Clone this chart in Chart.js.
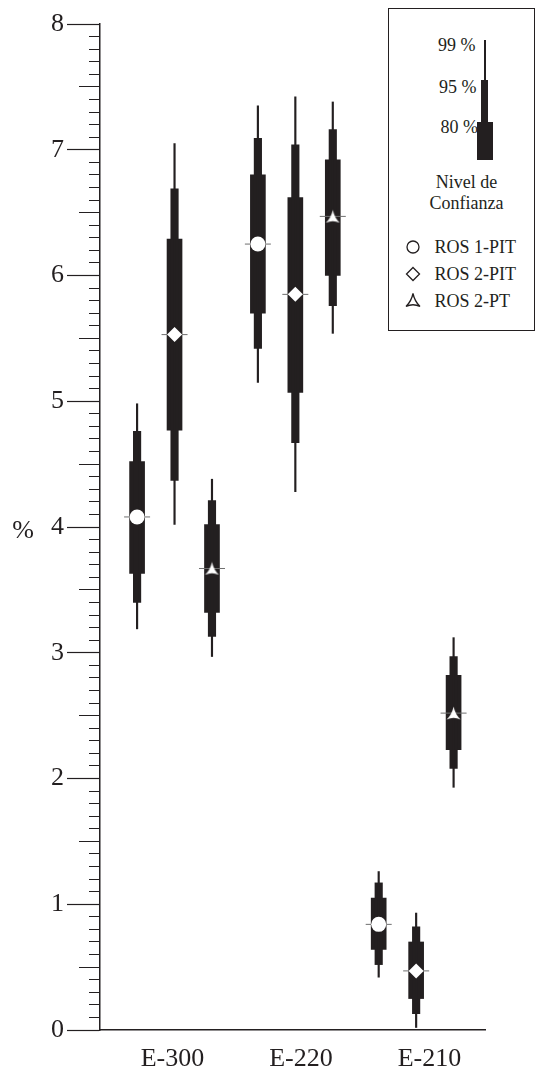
<!DOCTYPE html>
<html>
<head>
<meta charset="utf-8">
<script src="https://cdn.jsdelivr.net/npm/chart.js@4.4.1/dist/chart.umd.min.js"></script>
<style>
    body { margin: 0; background: #ffffff; }
    #wrap { position: relative; width: 537px; height: 1070px; font-family: 'Liberation Serif', 'Times New Roman', serif; color: #231f20; }
    #chart { position: absolute; left: 0; top: 0; }
    .key { position: absolute; left: 388px; top: 8px; width: 147px; height: 323px; box-sizing: border-box; border: 1.5px solid #231f20; background: #ffffff; }
    .key div, .key svg { position: absolute; }
    .key .txt { font-size: 18px; line-height: 20px; white-space: nowrap; }
    .key .bar { background: #231f20; }
</style>
</head>
<body>
<div id="wrap">
    <canvas id="chart" width="537" height="1070"></canvas>
    <div class="key">
        <div class="bar" style="left:95px; top:30.5px; width:1.5px; height:40px;"></div>
        <div class="bar" style="left:91.5px; top:70.5px; width:7px; height:42px;"></div>
        <div class="bar" style="left:87.5px; top:112.5px; width:16px; height:38px;"></div>
        <div class="txt" style="left:20px; width:66.5px; text-align:right; top:25.5px;">99 %</div>
        <div class="txt" style="left:20px; width:67.5px; text-align:right; top:67.5px;">95 %</div>
        <div class="txt" style="left:20px; width:69px; text-align:right; top:107.5px;">80 %</div>
        <div class="txt" style="left:17px; width:121px; text-align:center; top:162.5px;">Nivel de</div>
        <div class="txt" style="left:17px; width:121px; text-align:center; top:184px;">Confianza</div>

        <svg style="left:15.5px; top:229.5px;" width="16" height="16"><circle cx="8" cy="8" r="6" fill="none" stroke="#231f20" stroke-width="1.3"/></svg>
        <div class="txt" style="left:45.5px; top:227.5px;">ROS 1-PIT</div>
        <svg style="left:15.5px; top:257px;" width="16" height="16"><polygon points="8,1.5 14.5,8 8,14.5 1.5,8" fill="none" stroke="#231f20" stroke-width="1.3"/></svg>
        <div class="txt" style="left:45.5px; top:255px;">ROS 2-PIT</div>
        <svg style="left:15.5px; top:283px;" width="16" height="16"><path d="M8,1.5 Q9.5,9 15,14.5 Q8,11 1,14.5 Q6.5,9 8,1.5Z" fill="none" stroke="#231f20" stroke-width="1.3"/></svg>
        <div class="txt" style="left:45.5px; top:281.5px;">ROS 2-PT</div>
    </div>
</div>
<script>
const categories = ['E-300', 'E-220', 'E-210'];
const seriesNames = ['ROS 1-PIT', 'ROS 2-PIT', 'ROS 2-PT'];

// ROS 1-PIT (circle)
const ros1pitMedian = [4.08, 6.25, 0.84];
const ros1pitCi80 = [[3.63, 4.52], [5.70, 6.80], [0.64, 1.05]];
const ros1pitCi95 = [[3.40, 4.76], [5.42, 7.09], [0.52, 1.17]];
const ros1pitCi99 = [[3.19, 4.98], [5.15, 7.35], [0.42, 1.26]];

// ROS 2-PIT (diamond)
const ros2pitMedian = [5.53, 5.85, 0.47];
const ros2pitCi80 = [[4.77, 6.29], [5.07, 6.62], [0.25, 0.70]];
const ros2pitCi95 = [[4.37, 6.69], [4.67, 7.04], [0.13, 0.82]];
const ros2pitCi99 = [[4.02, 7.05], [4.28, 7.42], [0.02, 0.93]];

// ROS 2-PT (triangle)
const ros2ptMedian = [3.67, 6.47, 2.52];
const ros2ptCi80 = [[3.32, 4.02], [6.00, 6.92], [2.23, 2.82]];
const ros2ptCi95 = [[3.13, 4.21], [5.76, 7.16], [2.08, 2.97]];
const ros2ptCi99 = [[2.97, 4.38], [5.54, 7.38], [1.93, 3.12]];

const yMin = 0;
const yMax = 8;
const yMinorStep = 0.1;

const ink = '#231f20';
const serif = "'Liberation Serif', 'Times New Roman', serif";

// concave white triangle used as the ROS 2-PT marker
const triMarker = document.createElement('canvas');
triMarker.width = 15;
triMarker.height = 14;
(function () {
    const c = triMarker.getContext('2d');
    c.fillStyle = '#ffffff';
    c.beginPath();
    c.moveTo(7.5, 0.5);
    c.quadraticCurveTo(9, 8, 14.5, 13.5);
    c.quadraticCurveTo(7.5, 10, 0.5, 13.5);
    c.quadraticCurveTo(6, 8, 7.5, 0.5);
    c.closePath();
    c.fill();
})();
const markerStyles = ['circle', 'rectRot', triMarker];

const series = [
    { median: ros1pitMedian, ci80: ros1pitCi80, ci95: ros1pitCi95, ci99: ros1pitCi99 },
    { median: ros2pitMedian, ci80: ros2pitCi80, ci95: ros2pitCi95, ci99: ros2pitCi99 },
    { median: ros2ptMedian, ci80: ros2ptCi80, ci95: ros2ptCi95, ci99: ros2ptCi99 }
];

// category index on a linear axis, series spread around it
const seriesGap = 0.31;
function xPos(cat, s) {
    return cat + (s - 1) * seriesGap;
}

const datasets = [];
series.forEach(function (ser, s) {
    [[ser.ci99, 1.5], [ser.ci95, 7.5], [ser.ci80, 15]].forEach(function (pair) {
        datasets.push({
            type: 'bar',
            label: seriesNames[s],
            data: pair[0].map((r, c) => ({ x: xPos(c, s), y: r })),
            backgroundColor: ink,
            borderWidth: 0,
            grouped: false,
            barThickness: pair[1],
            order: 3
        });
    });
    datasets.push({
        type: 'scatter',
        label: seriesNames[s] + ' median',
        data: ser.median.map((m, c) => ({ x: xPos(c, s), y: m })),
        pointStyle: 'line',
        pointRadius: 13,
        pointBorderColor: '#6f6f6f',
        pointBorderWidth: 1,
        order: 1
    });
    datasets.push({
        type: 'scatter',
        label: seriesNames[s],
        data: ser.median.map((m, c) => ({ x: xPos(c, s), y: m })),
        pointStyle: markerStyles[s],
        pointRadius: 7.5,
        pointBackgroundColor: '#ffffff',
        pointBorderWidth: 0,
        order: 0
    });
});

const percentLabel = {
    id: 'percentLabel',
    afterDraw(chart) {
        const ctx = chart.ctx;
        const y = chart.scales.y;
        ctx.save();
        ctx.font = '26px ' + serif;
        ctx.fillStyle = ink;
        ctx.textAlign = 'center';
        ctx.textBaseline = 'middle';
        ctx.fillText('%', 23, y.getPixelForValue((yMin + yMax) / 2) + 4);
        ctx.restore();
    }
};

new Chart(document.getElementById('chart'), {
    type: 'bar',
    data: { datasets: datasets },
    plugins: [percentLabel],
    options: {
        responsive: false,
        animation: false,
        events: [],
        layout: { padding: { top: 24, right: 52, left: 0, bottom: 0 } },
        plugins: {
            legend: { display: false },
            tooltip: { enabled: false }
        },
        scales: {
            // scale the marks are placed on
            x: {
                type: 'linear',
                display: false,
                min: -0.617,
                max: 2.57,
                offset: false
            },
            // scale carrying the category labels
            xLabels: {
                type: 'linear',
                position: 'bottom',
                min: -0.564,
                max: 2.432,
                offset: false,
                grid: { display: false },
                border: { display: true, color: ink, width: 1.5 },
                ticks: {
                    stepSize: 1,
                    includeBounds: false,
                    autoSkip: false,
                    maxRotation: 0,
                    padding: 6,
                    color: ink,
                    font: { family: serif, size: 26 },
                    callback: v => categories[v] || ''
                },
                afterFit: function (scale) { scale.height = 40; }
            },
            y: {
                min: yMin,
                max: yMax,
                stacked: false,
                border: { display: true, color: ink, width: 1.5 },
                grid: {
                    drawOnChartArea: false,
                    drawTicks: true,
                    tickLength: 33,
                    tickColor: ink,
                    tickWidth: 1.2,
                    tickBorderDash: function (ctx) {
                        const tenths = Math.round((ctx.tick ? ctx.tick.value : 0) * 10);
                        if (tenths % 10 === 0) return [];
                        if (tenths % 5 === 0) return [0, 12, 21, 40];
                        return [0, 22, 11, 40];
                    }
                },
                ticks: {
                    stepSize: yMinorStep,
                    autoSkip: false,
                    padding: 3,
                    color: ink,
                    font: { family: serif, size: 26 },
                    callback: v => Math.abs(v - Math.round(v)) < 1e-6 ? String(Math.round(v)) : ''
                },
                afterFit: function (scale) { scale.width = 100; }
            }
        }
    }
});
</script>
</body>
</html>
